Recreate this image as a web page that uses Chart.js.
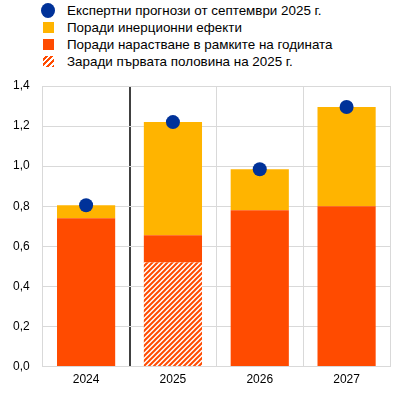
<!DOCTYPE html>
<html>
<head>
<meta charset="utf-8">
<script src="https://cdn.jsdelivr.net/npm/chart.js@4.4.0/dist/chart.umd.min.js"></script>
<style>
  body { margin: 0; background: #fff; font-family: "Liberation Sans", Arial, sans-serif; }
  #wrap { position: relative; width: 397px; height: 393px; }
  #legend { position: absolute; left: 41px; top: 2px; font-size: 13.4px; color: #000; }
  .row { height: 17px; display: flex; align-items: center; }
  .sym { width: 14px; height: 14px; margin-right: 12px; display: flex; align-items: center; justify-content: center; }
  .sym span { display: block; width: 11px; height: 11px; }
  #chart { position: absolute; left: 0; top: 0; }
</style>
</head>
<body>
<div id="wrap">
  <div id="legend">
    <div class="row"><div class="sym"><span style="width:15px;height:15px;border-radius:50%;background:#003299"></span></div>Експертни прогнози от септември 2025 г.</div>
    <div class="row"><div class="sym"><span style="background:#ffb400"></span></div>Поради инерционни ефекти</div>
    <div class="row"><div class="sym"><span style="background:#ff4b00"></span></div>Поради нарастване в рамките на годината</div>
    <div class="row"><div class="sym"><span style="background:repeating-linear-gradient(-45deg,#ff4b00 0 2px,#fff 2px 4px)"></span></div>Заради първата половина на 2025 г.</div>
  </div>
  <canvas id="chart" width="397" height="393"></canvas>
</div>
<script>
// Chart data
const years = ['2024', '2025', '2026', '2027'];
const firstHalf = [0, 0.52, 0, 0];
const withinYear = [0.74, 0.135, 0.78, 0.80];
const carryOver = [0.065, 0.565, 0.205, 0.495];
const projections = [0.805, 1.22, 0.985, 1.295];

// hatch pattern for the first half of 2025
function makeHatch() {
    const c = document.createElement('canvas');
    c.width = 5;
    c.height = 5;
    const g = c.getContext('2d');
    g.fillStyle = '#fff';
    g.fillRect(0, 0, 5, 5);
    g.strokeStyle = '#ff4b00';
    g.lineWidth = 2;
    g.beginPath();
    g.moveTo(-1, 6); g.lineTo(6, -1);
    g.moveTo(-1, 1); g.lineTo(1, -1);
    g.moveTo(4, 6); g.lineTo(6, 4);
    g.stroke();
    return g.createPattern(c, 'repeat');
}

const ctx = document.getElementById('chart').getContext('2d');

new Chart(ctx, {
    type: 'bar',
    data: {
        labels: years,
        datasets: [
            {
                type: 'line',
                label: 'Експертни прогнози от септември 2025 г.',
                data: projections,
                showLine: false,
                pointRadius: 7,
                pointHoverRadius: 7,
                pointBackgroundColor: '#003299',
                pointBorderWidth: 0,
                stack: 'dots',
                order: 0
            },
            {
                label: 'Заради първата половина на 2025 г.',
                data: firstHalf,
                backgroundColor: makeHatch(),
                stack: 'bars',
                order: 1
            },
            {
                label: 'Поради нарастване в рамките на годината',
                data: withinYear,
                backgroundColor: '#ff4b00',
                stack: 'bars',
                order: 1
            },
            {
                label: 'Поради инерционни ефекти',
                data: carryOver,
                backgroundColor: '#ffb400',
                stack: 'bars',
                order: 1
            }
        ]
    },
    options: {
        responsive: false,
        animation: false,
        events: [],
        layout: { padding: { top: 86, right: 2, left: 0, bottom: 0 } },
        datasets: {
            bar: { categoryPercentage: 1, barPercentage: 0.67, borderWidth: 0 }
        },
        plugins: {
            legend: { display: false },
            tooltip: { enabled: false }
        },
        scales: {
            x: {
                stacked: true,
                offset: true,
                grid: {
                    offset: true,
                    drawTicks: false,
                    color: (c) => c.index === 1 ? '#404040' : '#d9d9d9',
                    lineWidth: (c) => c.index === 1 ? 2 : 1
                },
                border: { color: '#d9d9d9' },
                ticks: { color: '#000', padding: 6, font: { family: 'Liberation Sans', size: 12 } }
            },
            y: {
                stacked: true,
                min: 0,
                max: 1.4,
                grid: { color: '#d9d9d9', drawTicks: false },
                border: { color: '#d9d9d9' },
                ticks: {
                    stepSize: 0.2,
                    color: '#000',
                    padding: 13,
                    font: { family: 'Liberation Sans', size: 12 },
                    callback: (v) => v.toFixed(1).replace('.', ',')
                }
            }
        }
    }
});
</script>
</body>
</html>
